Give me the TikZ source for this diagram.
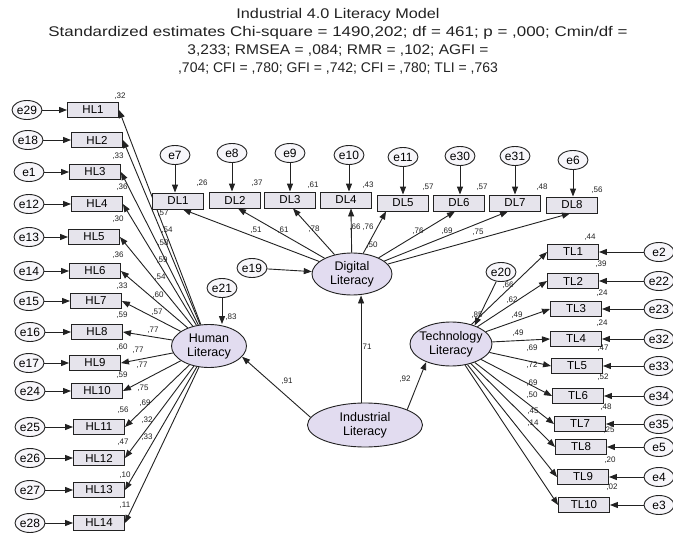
\documentclass[tikz,border=0pt]{standalone}
\usepackage{fontspec}
\setmainfont{Liberation Sans}
\usetikzlibrary{arrows.meta,shapes.geometric,calc}
\definecolor{obsfill}{HTML}{E6E4EC}
\definecolor{latfill}{HTML}{E2DCF0}
\definecolor{errfill}{HTML}{F7F6FA}
\definecolor{linec}{HTML}{222222}
\tikzset{
  obs/.style={draw=linec, line width=0.9pt, fill=obsfill, minimum width=51pt, minimum height=15pt, inner sep=0pt, font=\fontsize{11.5}{12}\selectfont},
  err/.style={ellipse, draw=linec, line width=0.9pt, fill=errfill, minimum width=30pt, minimum height=19pt, inner sep=0pt, font=\fontsize{12}{12}\selectfont},
  lat/.style={ellipse, draw=linec, line width=0.9pt, fill=latfill, inner xsep=-6pt, inner ysep=0pt, align=center, font=\fontsize{12.5}{14}\selectfont},
  arr/.style={-{Triangle[length=8pt,width=6pt]}, line width=0.9pt, draw=linec},
  lbl/.style={font=\fontsize{8}{9}\selectfont, inner sep=0pt, text=linec}
}
\begin{document}
\begin{tikzpicture}[x=1pt,y=-1pt]
\useasboundingbox (0,0) rectangle (673,535);
\fill[white] (0,0) rectangle (673,535);

\node[align=center, font=\fontsize{14}{18}\selectfont, text=linec] (title) at (338,41)
 {\scalebox{1.16}[1]{Industrial 4.0 Literacy Model}\\
  \scalebox{1.21}[1]{Standardized estimates Chi-square = 1490,202; df = 461; p = ,000; Cmin/df =}\\
  \scalebox{1.11}[1]{3,233; RMSEA = ,084; RMR = ,102; AGFI =}\\
  \scalebox{1.0}[1]{,704; CFI = ,780; GFI = ,742; CFI = ,780; TLI = ,763}};

% latent variables
\node[lat, minimum width=75pt, minimum height=43pt] (hum) at (209,346) {Human\\Literacy};
\node[lat, minimum width=80pt, minimum height=42pt] (dig) at (352,274) {Digital\\Literacy};
\node[lat, minimum width=82pt, minimum height=44pt] (tech) at (451,344) {Technology\\Literacy};
\node[lat, minimum width=115pt, minimum height=44pt] (ind) at (365,425) {Industrial\\Literacy};

\node[err] (e21) at (222,288) {e21};
\node[err] (e19) at (252,268) {e19};
\node[err] (e20) at (501,272) {e20};

\draw[arr] (e21) -- (e21 |- hum.north);
\draw[arr] (e19) -- (dig);
\draw[arr] (e20) -- (tech.38);
\draw[arr] (ind.172) -- (hum.342);
\draw[arr] (ind.100) -- (ind.100 |- dig.south);
\draw[arr] (ind.20) -- (tech.216);

\node[lbl] (r83) at (231,317) {,83};
\node[lbl] (r50) at (372,245) {,50};
\node[lbl] (r85) at (477,315) {,85};
\node[lbl] (s91) at (287,381) {,91};
\node[lbl] (s71) at (366,347) {,71};
\node[lbl] (s92) at (405,379) {,92};

% Human literacy indicators
\foreach \i/\x/\y/\ex/\e in {1/93/110/27/29, 2/97/140/28/18, 3/95/172/29/1, 4/97/204/29/12,
  5/94/237/29/13, 6/95/271/29/14, 7/96/301/29/15, 8/97/332/30/16, 9/95/363/29/17,
  10/97/391/30/24, 11/99/427/30/25, 12/99/458/30/26, 13/99/490/30/27, 14/99/523/30/28} {
  \node[obs] (hl\i) at (\x,\y) {HL\i};
  \node[err] (eh\i) at (\ex,\y) {e\e};
  \draw[arr] (eh\i) -- (hl\i.west);
  \draw[arr] (hum) -- (hl\i.east);
}
\foreach \n/\x/\y/\t in {1/120/96/{,32}, 3/118/156/{,33}, 4/122/187/{,36}, 5/118/219/{,30},
  6/118/255/{,36}, 7/122/286/{,33}, 8/122/315/{,59}, 9/122/347/{,60}, 10/122/375/{,59},
  11/123/410/{,56}, 12/123/442/{,47}, 13/125/475/{,10}, 14/125/505/{,11}} {
  \node[lbl] (rh\n) at (\x,\y) {\t};
}
\foreach \n/\x/\y/\t in {1/163/213/{,57}, 2/167/230/{,54}, 3/163/243/{,58}, 4/162/260/{,59},
  5/160/277/{,54}, 6/158/295/{,60}, 7/157/312/{,57}, 8/153/330/{,77}, 9/138/350/{,77},
  10/142/365/{,77}, 11/143/388/{,75}, 12/145/403/{,69}, 13/147/420/{,32}, 14/147/437/{,33}} {
  \node[lbl] (lh\n) at (\x,\y) {\t};
}

% Digital literacy indicators
\foreach \i/\x/\y/\ex/\ey/\e/\o in {1/178/201/175/155/7/5, 2/235/200/232/153/8/3,
  3/290/200/290/153/9/3, 4/346/200/349/155/10/5, 5/403/203/403/157/11/-17,
  6/459/203/460/156/30/-4, 7/515/203/515/156/31/-7, 8/572/205/573/160/6/-2} {
  \node[obs, minimum height=16pt] (dl\i) at (\x,\y) {DL\i};
  \node[err] (ed\i) at (\ex,\ey) {e\e};
  \draw[arr] (ed\i) -- (ed\i |- dl\i.north);
  \draw[arr] (dig) -- ($(dl\i.south)+(\o,0)$);
}
\foreach \n/\x/\y/\t in {1/202/183/{,26}, 2/257/183/{,37}, 3/313/185/{,61}, 4/368/185/{,43},
  5/428/187/{,57}, 6/482/187/{,57}, 7/542/187/{,48}, 8/597/190/{,56}} {
  \node[lbl] (rd\n) at (\x,\y) {\t};
}
\foreach \n/\x/\y/\t in {1/256/230/{,51}, 2/283/230/{,61}, 3/314/229/{,78}, 4/355/227/{,66},
  5/368/227/{,76}, 6/418/231/{,76}, 7/447/231/{,69}, 8/478/232/{,75}} {
  \node[lbl] (ld\n) at (\x,\y) {\t};
}

% Technology literacy indicators
\foreach \i/\x/\y/\e in {1/573/252/2, 2/573/281/22, 3/576/309/23, 4/576/339/32, 5/577/366/33,
  6/578/396/34, 7/580/424/35, 8/581/447/5, 9/583/477/4, 10/584/505/3} {
  \node[obs] (tl\i) at (\x,\y) {TL\i};
  \node[err] (et\i) at (659,\y) {e\e};
  \draw[arr] (et\i) -- (tl\i.east);
  \draw[arr] (tech) -- (tl\i.west);
}
\foreach \n/\x/\y/\t in {1/590/237/{,44}, 2/601/264/{,39}, 3/602/293/{,24}, 4/602/323/{,24},
  5/603/348/{,47}, 6/603/377/{,52}, 7/606/407/{,48}, 8/609/430/{,25}, 9/610/460/{,20}, 10/612/487/{,02}} {
  \node[lbl] (rt\n) at (\x,\y) {\t};
}
\foreach \n/\x/\y/\t in {1/508/285/{,66}, 2/512/300/{,62}, 3/517/315/{,49}, 4/518/333/{,49},
  5/532/348/{,69}, 6/532/365/{,72}, 7/532/383/{,69}, 8/532/395/{,50}, 9/533/411/{,45}, 10/533/423/{,14}} {
  \node[lbl] (lt\n) at (\x,\y) {\t};
}
\end{tikzpicture}
\end{document}
